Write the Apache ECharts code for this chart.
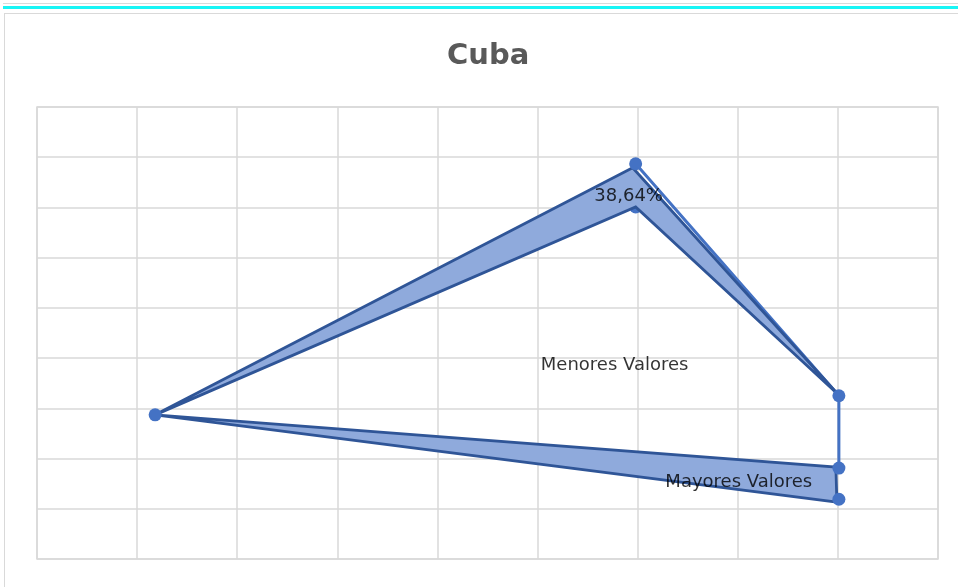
<!DOCTYPE html>
<html>
<head>
<meta charset="utf-8">
<script src="https://cdn.jsdelivr.net/npm/echarts@6/dist/echarts.min.js"></script>
<style>
  html, body { margin: 0; padding: 0; background: #fff; }
  #topbar { position: absolute; left: 3px; top: 3px; width: 960px; height: 2px; border-top: 1px solid #d9d9d9; border-bottom: 3px solid #19f5f5; }
  #box { position: absolute; left: 4px; top: 13px; width: 960px; height: 580px; border: 1px solid #d9d9d9; }
  #chart { position: absolute; left: 0; top: 0; width: 958px; height: 587px; }
</style>
</head>
<body>
<div id="topbar"></div>
<div id="box"></div>
<div id="chart"></div>
<script>
// marker points (x, y) in chart units
var pointX = [1.18, 5.98, 8.01, 8.01, 8.01];
var pointY = [2.87, 7.87, 3.25, 1.81, 1.19];
// hidden marker under the band
var pctPoint = [5.98, 7.01];
var pctLabel = "38,64%";
// upper band (Menores Valores) vertices
var upperX = [1.18, 5.95, 8.0, 5.98];
var upperY = [2.87, 7.79, 3.28, 7.01];
// lower band (Mayores Valores) vertices
var lowerX = [1.18, 7.98, 7.99];
var lowerY = [2.87, 1.83, 1.13];
// texts and where they sit
var labelNames = [pctLabel, "Menores Valores", "Mayores Valores"];
var labelX = [5.91, 5.77, 7.01];
var labelY = [7.23, 3.86, 1.53];

function zip(xs, ys) {
  return xs.map(function (x, i) { return [x, ys[i]]; });
}

var chart = echarts.init(document.getElementById("chart"));

function polygonSeries(xs, ys) {
  return {
    type: "custom",
    z: 3,
    silent: true,
    data: [0],
    renderItem: function (params, api) {
      var pts = zip(xs, ys).map(function (p) { return api.coord(p); });
      return {
        type: "polygon",
        shape: { points: pts },
        style: { fill: "#8faadc", stroke: "#2f5597", lineWidth: 2.8, lineJoin: "miter" }
      };
    }
  };
}

var points = zip(pointX, pointY);

chart.setOption({
  animation: false,
  title: {
    text: "Cuba",
    left: 442,
    top: 37,
    textStyle: { color: "#595959", fontSize: 29, fontWeight: "bold", fontFamily: "DejaVu Sans" }
  },
  grid: { left: 37, top: 107, width: 901, height: 452, show: true, borderColor: "#d9d9d9", borderWidth: 1.5 },
  xAxis: {
    type: "value", min: 0, max: 9, interval: 1,
    axisLine: { show: false }, axisTick: { show: false }, axisLabel: { show: false },
    splitLine: { lineStyle: { color: "#d9d9d9", width: 1.5 } }
  },
  yAxis: {
    type: "value", min: 0, max: 9, interval: 1,
    axisLine: { show: false }, axisTick: { show: false }, axisLabel: { show: false },
    splitLine: { lineStyle: { color: "#d9d9d9", width: 1.5 } }
  },
  series: [
    {
      type: "scatter",
      z: 1,
      symbolSize: 13,
      itemStyle: { color: "#4472c4", opacity: 1 },
      data: [pctPoint]
    },
    {
      type: "line",
      z: 2,
      showSymbol: false,
      lineStyle: { color: "#4472c4", width: 3 },
      data: [points[1], points[2], points[3]]
    },
    polygonSeries(upperX, upperY),
    polygonSeries(lowerX, lowerY),
    {
      type: "scatter",
      z: 4,
      symbolSize: 13,
      itemStyle: { color: "#4472c4", opacity: 1 },
      data: points
    },
    {
      type: "scatter",
      z: 5,
      symbolSize: 0,
      data: labelNames.map(function (n, i) { return { name: n, value: [labelX[i], labelY[i]] }; }),
      label: {
        show: true, position: "inside",
        formatter: "{b}",
        color: "#000", fontSize: 18, fontFamily: "DejaVu Sans"
      }
    }
  ]
});
</script>
</body>
</html>
